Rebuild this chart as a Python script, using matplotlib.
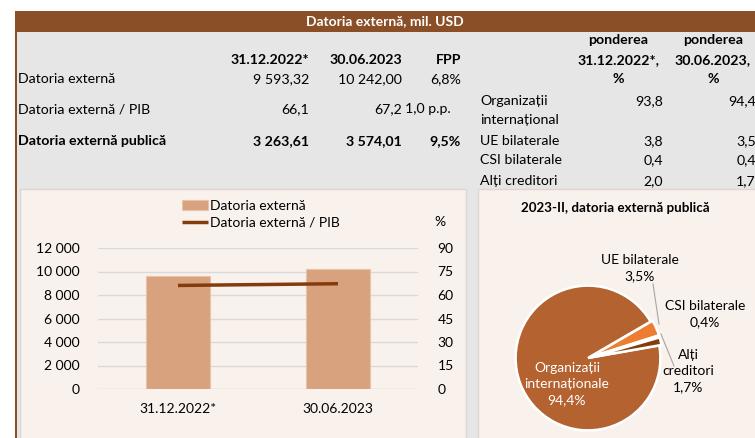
import matplotlib
matplotlib.use("Agg")
import matplotlib.pyplot as plt
from matplotlib.patches import Rectangle
from matplotlib.lines import Line2D

plt.rcParams['font.family'] = ['Lato', 'DejaVu Sans']

# --- data ---
dates = ["31.12.2022*", "30.06.2023"]
debt = [9593.32, 10242.00]            # mil. USD
debt_gdp = [66.1, 67.2]               # %
debt_public = [3263.61, 3574.01]      # mil. USD
fpp = ["6,8%", "1,0 p.p.", "9,5%"]

creditors = ["Organizații\ninternațional", "UE bilaterale", "CSI bilaterale", "Alți creditori"]
share_2022 = [93.8, 3.8, 0.4, 2.0]
share_2023 = [94.4, 3.5, 0.4, 1.7]
pie_names = ["Organizații\ninternaționale", "UE bilaterale", "CSI bilaterale", "Alți\ncreditori"]

left_ticks = [0, 2000, 4000, 6000, 8000, 10000, 12000]
right_ticks = [0, 15, 30, 45, 60, 75, 90]

W, H = 755, 438
BROWN = "#8B4F28"
GRAY = "#E6E6E6"
PANEL = "#F9F1EC"
TXT = "#000000"


def fmt(v, d):
    s = f"{v:,.{d}f}"
    return s.replace(",", " ").replace(".", ",")


def rect(x0, y0, x1, y1):
    # pixel box (top-left origin) -> figure fraction
    return [x0 / W, 1 - y1 / H, (x1 - x0) / W, (y1 - y0) / H]


fig = plt.figure(figsize=(W / 100, H / 100), dpi=100)
fig.patch.set_facecolor("white")

bg = fig.add_axes([0, 0, 1, 1])
bg.set_xlim(0, W)
bg.set_ylim(H, 0)
bg.axis("off")

# frame: title bar, left rule, grey body, two panels
bg.add_patch(Rectangle((17, 32), W - 17, H - 32, color=GRAY, lw=0))
bg.add_patch(Rectangle((15, 11), W - 15, 21, color=BROWN, lw=0))
bg.add_patch(Rectangle((15, 11), 2, H - 11, color=BROWN, lw=0))
bg.add_patch(Rectangle((20, 189), 446, 252, facecolor=PANEL, edgecolor="#DCD7D3", lw=1))
bg.add_patch(Rectangle((478, 189), 282, 252, facecolor=PANEL, edgecolor="#DCD7D3", lw=1))

bg.text(385, 21.5, "Datoria externă, mil. USD", color="white", fontsize=10,
        fontweight="bold", ha="center", va="center")

fs = 10.2
# left table
cols = [309, 402, 461]
for x, lab in zip(cols, dates + ["FPP"]):
    bg.text(x, 60, lab, fontsize=fs, fontweight="bold", ha="right", va="center")

rows_y = [79, 109, 141]
bg.text(18, rows_y[0], "Datoria externă", fontsize=fs, va="center")
bg.text(18, rows_y[1], "Datoria externă / PIB", fontsize=fs, va="center")
bg.text(18, rows_y[2], "Datoria externă publică", fontsize=fs, va="center", fontweight="bold")
for i in range(2):
    bg.text(cols[i], rows_y[0], fmt(debt[i], 2), fontsize=fs, ha="right", va="center")
    bg.text(cols[i], rows_y[1], fmt(debt_gdp[i], 1), fontsize=fs, ha="right", va="center")
    bg.text(cols[i], rows_y[2], fmt(debt_public[i], 2), fontsize=fs, ha="right", va="center",
            fontweight="bold")
bg.text(cols[2], rows_y[0], fpp[0], fontsize=fs, ha="right", va="center")
bg.text(405, rows_y[1], fpp[1], fontsize=fs, ha="left", va="center")
bg.text(cols[2], rows_y[2], fpp[2], fontsize=fs, ha="right", va="center", fontweight="bold")

# right table
rcols = [663, 756]
for x, d in zip([618, 713], ["31.12.2022*,", "30.06.2023,"]):
    bg.text(x, 40, "ponderea", fontsize=fs, fontweight="bold", ha="center", va="center")
    bg.text(x, 60, d, fontsize=fs, fontweight="bold", ha="center", va="center")
    bg.text(x, 79, "%", fontsize=fs, fontweight="bold", ha="center", va="center")
cred_y = [101, 141, 160, 181]
for name, y, a, b in zip(creditors, cred_y, share_2022, share_2023):
    for k, ln in enumerate(name.split("\n")):
        bg.text(480, y + 19 * k, ln, fontsize=fs, va="center")
    bg.text(rcols[0], y, fmt(a, 1), fontsize=fs, ha="right", va="center")
    bg.text(rcols[1], y, fmt(b, 1), fontsize=fs, ha="right", va="center")

# --- bar + line chart ---
ax = fig.add_axes(rect(98, 248, 418, 389))
ax.set_facecolor("none")
xs = range(len(dates))
bars = ax.bar(xs, debt, width=0.4, color="#D9A27E", edgecolor="#E8C3AA", lw=0.8, zorder=2)
ax.set_xlim(-0.5, 1.5)
ax.set_ylim(0, 12000)
ax.set_yticks(left_ticks)
ax.set_yticklabels([fmt(t, 0) for t in left_ticks])
ax.set_xticks(list(xs))
ax.set_xticklabels(dates)
ax.grid(axis="y", color="#D9D9D9", lw=1, zorder=0)
for s in ax.spines.values():
    s.set_visible(False)
ax.tick_params(length=0, labelsize=10, pad=13)
ax.tick_params(axis="x", pad=10)

ax2 = ax.twinx()
line, = ax2.plot(xs, debt_gdp, color="#843C0C", lw=2.5, solid_capstyle="butt", zorder=3)
ax2.set_ylim(0, 90)
ax2.set_yticks(right_ticks)
for s in ax2.spines.values():
    s.set_visible(False)
ax2.tick_params(length=0, labelsize=10, pad=14)
bg.text(440, 222, "%", fontsize=10, ha="center", va="center")

leg = fig.legend([bars, line], ["Datoria externă", "Datoria externă / PIB"],
                 loc="upper left", bbox_to_anchor=(182 / W, 1 - 200 / H), frameon=False,
                 fontsize=10, handlelength=1.9, handletextpad=0.15, labelspacing=0.35,
                 borderpad=0, borderaxespad=0)

# --- pie ---
bg.text(615, 208, "2023-II, datoria externă publică", fontsize=9.6, fontweight="bold",
        ha="center", va="center")
r = 76
cx, cy = 588, 358
pax = fig.add_axes(rect(cx - r, cy - r, cx + r, cy + r))
pax.set_facecolor("none")
colors = ["#B4622F", "#ED7D31", "#A5A5A5", "#843C0C"]
wedges, _ = pax.pie(share_2023, colors=colors, startangle=10, counterclock=False,
                    explode=[0, 0.03, 0.03, 0.03],
                    wedgeprops=dict(edgecolor="white", linewidth=1.8))
pax.set_xlim(-1.05, 1.05)
pax.set_ylim(-1.05, 1.05)
pax.set_aspect("equal")
pax.axis("off")

lab_pos = [(567, 384, "white"), (640, 268, TXT), (705, 314, TXT), (688, 371, TXT)]
for name, v, (x, y, c) in zip(pie_names, share_2023, lab_pos):
    pax.text(x, y, name + "\n" + fmt(v, 1) + "%", transform=bg.transData, fontsize=10,
             color=c, ha="center", va="center", linespacing=1.4, clip_on=False)
for (x0, y0, x1, y1) in [(653, 284, 659, 324), (661, 334, 674, 366)]:
    pax.add_line(Line2D([x0, x1], [y0, y1], transform=bg.transData, color="#A6A6A6",
                        lw=0.8, clip_on=False))

fig.savefig("out.png", dpi=100)
